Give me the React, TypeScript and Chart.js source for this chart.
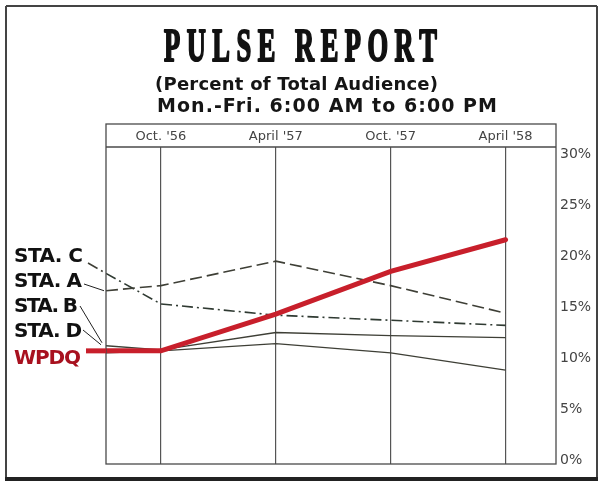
import React, { useEffect, useRef } from "react";
import { Chart, registerables } from "chart.js";

Chart.register(...registerables);

// ---- data ----
const categories = ["Oct. '56", "April '57", "Oct. '57", "April '58"];
const stationNames = ["STA. C", "STA. A", "STA. B", "STA. D", "WPDQ"];
// value where each line enters the chart at its left edge, then the four surveys (%)
const wpdqStart = 10.7;
const wpdq = [10.7, 14.3, 18.5, 21.6];
const staAStart = 16.6;
const staA = [17.1, 19.5, 17.1, 14.4];
const staCStart = 18.3;
const staC = [15.3, 14.2, 13.7, 13.2];
const staBStart = 11.2;
const staB = [10.8, 12.5, 12.2, 12.0];
const staDStart = 10.5;
const staD = [10.7, 11.4, 10.5, 8.8];
const yTicks = [0, 5, 10, 15, 20, 25, 30];

const TITLE = "PULSE REPORT";
const SUB1 = "(Percent of Total Audience)";
const SUB2 = "Mon.-Fri. 6:00 AM to 6:00 PM";

const X_MIN = -0.478;
const X_MAX = 3.439;
const Y_MIN = -0.4;
const Y_MAX = 30.7;

const RED = "#c81f2b";
const DARK = "#3e3f36";
const DASH_A = [12, 5];
const DASH_C = [11, 4, 2, 4];

function series(start: number, vals: number[]) {
  return [{ x: X_MIN, y: start }, ...vals.map((v, i) => ({ x: i, y: v }))];
}

function fitText(ctx: CanvasRenderingContext2D, text: string, x: number, y: number, font: string, width: number, color: string) {
  ctx.font = font;
  (ctx as any).letterSpacing = "0px";
  const w0 = ctx.measureText(text).width;
  const n = Array.from(text).length;
  const ls = (width - w0) / (n - 1);
  (ctx as any).letterSpacing = ls + "px";
  ctx.fillStyle = color;
  ctx.textAlign = "left";
  ctx.textBaseline = "alphabetic";
  ctx.fillText(text, x, y);
  (ctx as any).letterSpacing = "0px";
}

const decor = {
  id: "decor",
  beforeDraw(chart: any) {
    const ctx: CanvasRenderingContext2D = chart.ctx;
    ctx.save();
    ctx.fillStyle = "#ffffff";
    ctx.fillRect(0, 0, chart.width, chart.height);
    // outer frame
    ctx.strokeStyle = "#444";
    ctx.lineWidth = 2;
    ctx.beginPath();
    ctx.moveTo(6, 6);
    ctx.lineTo(597, 6);
    ctx.moveTo(6, 6);
    ctx.lineTo(6, 479);
    ctx.moveTo(597, 6);
    ctx.lineTo(597, 479);
    ctx.stroke();
    ctx.strokeStyle = "#222";
    ctx.lineWidth = 4;
    ctx.beginPath();
    ctx.moveTo(5, 479);
    ctx.lineTo(598, 479);
    ctx.stroke();

    // title, condensed
    ctx.font = 'bold 47px "Liberation Sans Narrow"';
    (ctx as any).letterSpacing = "0px";
    const w0 = ctx.measureText(TITLE).width;
    const gap = 6.5;
    const n = TITLE.length;
    const sx = (273 - gap * (n - 1)) / w0;
    ctx.save();
    ctx.translate(164, 61);
    ctx.scale(sx, 1);
    (ctx as any).letterSpacing = gap / sx + "px";
    ctx.fillStyle = "#111";
    ctx.strokeStyle = "#111";
    ctx.lineWidth = 2.2;
    ctx.lineJoin = "round";
    ctx.textAlign = "left";
    ctx.textBaseline = "alphabetic";
    ctx.fillText(TITLE, 0, 0);
    ctx.strokeText(TITLE, 0, 0);
    ctx.restore();

    fitText(ctx, SUB1, 155, 90, 'bold 18px "DejaVu Sans"', 283, "#151515");
    fitText(ctx, SUB2, 157, 112, 'bold 19px "DejaVu Sans"', 340, "#151515");
    ctx.restore();
  },
  afterDraw(chart: any) {
    const ctx: CanvasRenderingContext2D = chart.ctx;
    const { left, right, top, bottom } = chart.chartArea;
    const xs = chart.scales.x;
    const ys = chart.scales.y;
    ctx.save();
    // plot frame and header band
    ctx.strokeStyle = "#4a4a4a";
    ctx.lineWidth = 1.3;
    ctx.strokeRect(left, xs.top, right - left, bottom - xs.top);
    ctx.beginPath();
    ctx.moveTo(left, top);
    ctx.lineTo(right, top);
    ctx.stroke();

    // station labels
    const font = 'bold 20px "DejaVu Sans"';
    const labelX = 14;
    const baselines = [262, 287, 312, 337, 364];
    const widths = [69, 68, 64, 68, 67];
    stationNames.forEach((name, i) => {
      fitText(ctx, name, labelX, baselines[i], font, widths[i], name === "WPDQ" ? "#a8111f" : "#111");
    });

    // leaders
    const x0 = xs.getPixelForValue(X_MIN);
    ctx.lineCap = "butt";
    // STA. C (dash-dot, like its line)
    ctx.strokeStyle = DARK;
    ctx.lineWidth = 1.5;
    ctx.setLineDash(DASH_C);
    ctx.beginPath();
    ctx.moveTo(88, 263);
    ctx.lineTo(x0, ys.getPixelForValue(staCStart));
    ctx.stroke();
    ctx.setLineDash([]);
    ctx.lineWidth = 1;
    ctx.strokeStyle = "#222";
    ctx.beginPath();
    ctx.moveTo(84, 284);
    ctx.lineTo(x0 - 2, ys.getPixelForValue(staAStart));
    ctx.moveTo(80, 306);
    ctx.lineTo(x0 - 4, ys.getPixelForValue(staBStart) - 3);
    ctx.moveTo(83, 330);
    ctx.lineTo(x0 - 5, ys.getPixelForValue(staBStart) - 1);
    ctx.stroke();
    // WPDQ red leader
    ctx.strokeStyle = RED;
    ctx.lineWidth = 5;
    ctx.beginPath();
    const yw = ys.getPixelForValue(wpdqStart);
    ctx.moveTo(86, yw);
    ctx.lineTo(x0, yw);
    ctx.stroke();
    ctx.restore();
  },
};

export default function App() {
  const ref = useRef<HTMLCanvasElement | null>(null);
  useEffect(() => {
    if (!ref.current) return;
    const chart = new Chart(ref.current, {
      type: "line",
      data: {
        datasets: [
          { label: "WPDQ", data: series(wpdqStart, wpdq), borderColor: RED, borderWidth: 5, pointRadius: 0, tension: 0, borderCapStyle: "round" },
          { label: "STA. A", data: series(staAStart, staA), borderColor: DARK, borderWidth: 1.6, borderDash: DASH_A, pointRadius: 0, tension: 0 },
          { label: "STA. C", data: series(staCStart, staC), borderColor: "#2f3a32", borderWidth: 1.6, borderDash: DASH_C, pointRadius: 0, tension: 0 },
          { label: "STA. B", data: series(staBStart, staB), borderColor: DARK, borderWidth: 1.3, pointRadius: 0, tension: 0 },
          { label: "STA. D", data: series(staDStart, staD), borderColor: DARK, borderWidth: 1.3, pointRadius: 0, tension: 0 },
        ],
      },
      options: {
        responsive: false,
        animation: false,
        layout: { padding: { left: 106, top: 124, right: 0, bottom: 21 } },
        plugins: { legend: { display: false }, title: { display: false }, tooltip: { enabled: false } },
        scales: {
          x: {
            type: "linear",
            position: "top",
            min: X_MIN,
            max: X_MAX,
            afterBuildTicks: (s: any) => {
              s.ticks = categories.map((_, i) => ({ value: i }));
            },
            afterFit: (s: any) => {
              s.height = 23;
            },
            ticks: {
              callback: (v: any) => categories[v as number] ?? "",
              font: { family: '"DejaVu Sans"', size: 13 },
              color: "#444",
              padding: 3,
              maxRotation: 0,
              autoSkip: false,
            },
            grid: { display: true, drawTicks: false, color: "#555", lineWidth: 1.2 },
            border: { display: false },
          },
          y: {
            type: "linear",
            position: "right",
            min: Y_MIN,
            max: Y_MAX,
            afterBuildTicks: (s: any) => {
              s.ticks = yTicks.map((v) => ({ value: v }));
            },
            afterFit: (s: any) => {
              s.width = 43;
            },
            ticks: {
              callback: (v: any) => v + "%",
              font: { family: '"DejaVu Sans"', size: 14 },
              color: "#444",
              padding: 4,
            },
            grid: { display: false, drawTicks: false },
            border: { display: false },
          },
        },
      },
      plugins: [decor],
    });
    return () => chart.destroy();
  }, []);
  return (
    <canvas
      ref={ref}
      width={599}
      height={485}
      style={{ position: "absolute", left: 0, top: 0, width: 599, height: 485 }}
    />
  );
}
